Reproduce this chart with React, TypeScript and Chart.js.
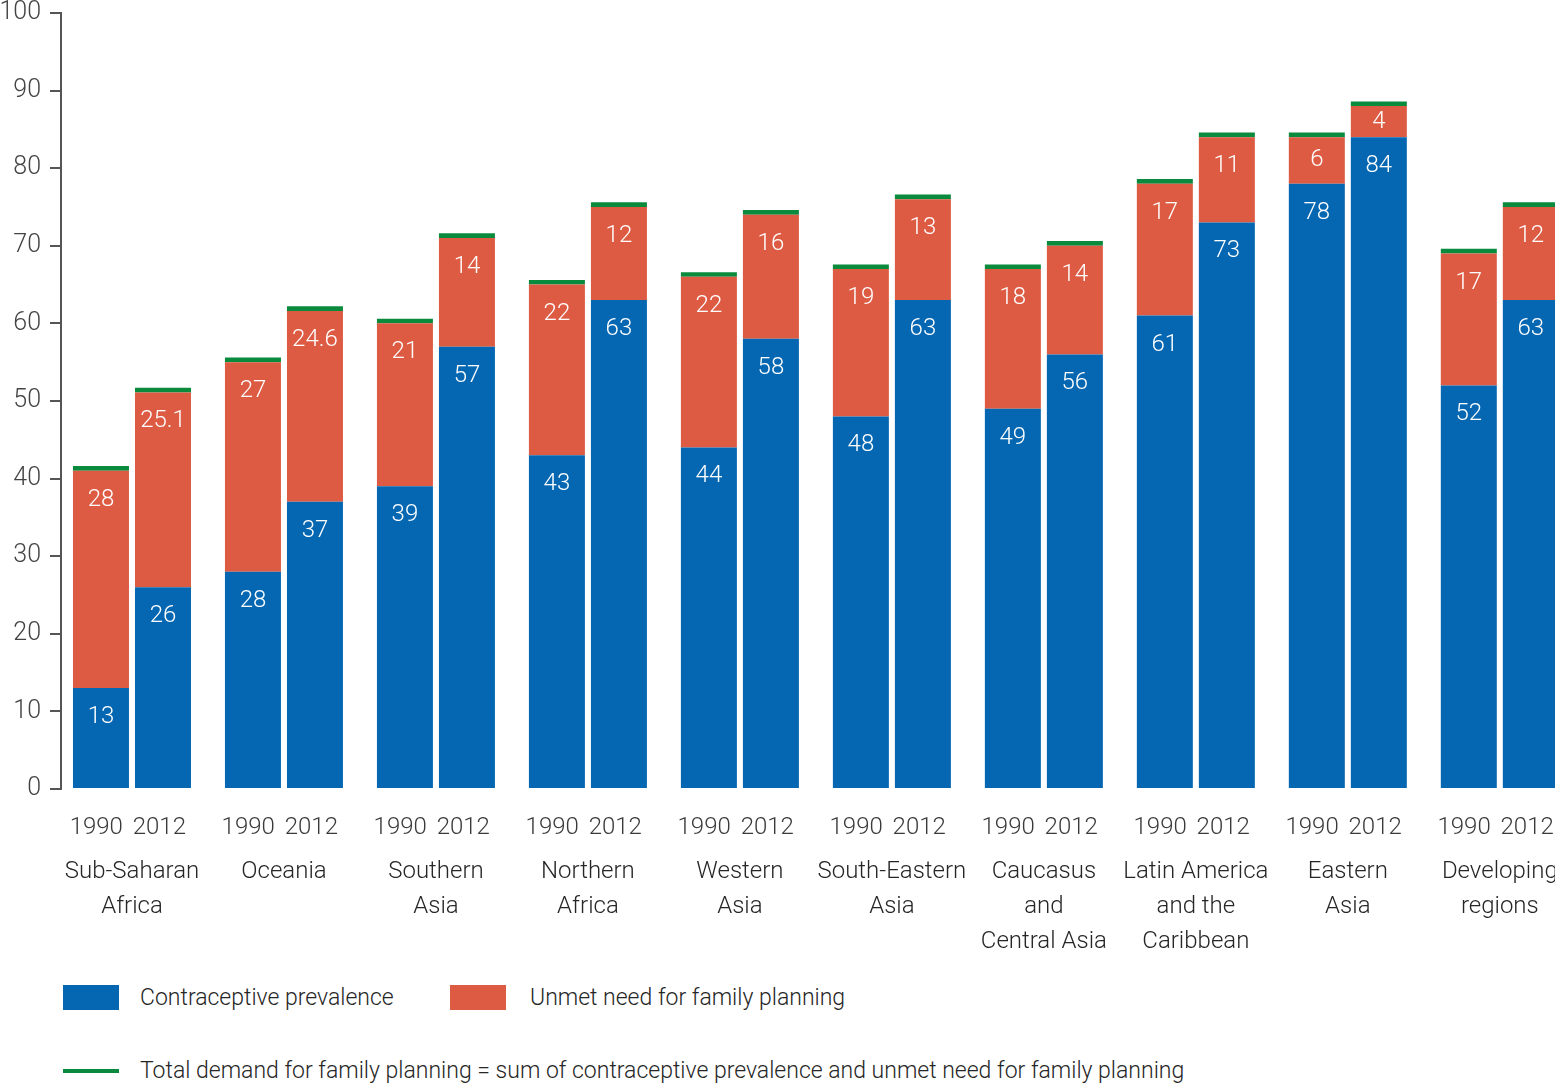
import React, { useEffect, useRef } from 'react';
import { Chart, registerables } from 'chart.js';

Chart.register(...registerables);

const regions: string[][] = [
  ['Sub-Saharan', 'Africa'],
  ['Oceania'],
  ['Southern', 'Asia'],
  ['Northern', 'Africa'],
  ['Western', 'Asia'],
  ['South-Eastern', 'Asia'],
  ['Caucasus', 'and', 'Central Asia'],
  ['Latin America', 'and the', 'Caribbean'],
  ['Eastern', 'Asia'],
  ['Developing', 'regions'],
];
const years = ['1990', '2012'];
const prevalence1990 = [13, 28, 39, 43, 44, 48, 49, 61, 78, 52];
const prevalence2012 = [26, 37, 57, 63, 58, 63, 56, 73, 84, 63];
const unmet1990 = [28, 27, 21, 22, 22, 19, 18, 17, 6, 17];
const unmet2012 = [25.1, 24.6, 14, 12, 16, 13, 14, 11, 4, 12];
const yTicks = [0, 10, 20, 30, 40, 50, 60, 70, 80, 90, 100];

const legendLabels = [
  'Contraceptive prevalence',
  'Unmet need for family planning',
  'Total demand for family planning = sum of contraceptive prevalence and unmet need for family planning',
];

const BLUE = '#0567b2';
const RED = '#dd5b43';
const GREEN = '#0a8a3c';
const FONT = "Roboto, 'Noto Sans', sans-serif";
const MARK = 0.6; // thickness of the green total-demand marker (in axis units)

const X_MIN = -0.467;
const X_MAX = 9.6;

const pts = (arr: number[]) => arr.map((v, i) => ({ x: i, y: v }));

const labelPlugin = {
  id: 'segLabels',
  afterLayout(chart: any) {
    // let the region labels sit closer to the year labels without being clipped
    if (chart.scales.x) chart.scales.x._computeLabelArea = () => undefined;
  },
  afterDatasetsDraw(chart: any) {
    const ctx = chart.ctx;
    ctx.save();
    ctx.fillStyle = '#ffffff';
    ctx.font = `300 24px ${FONT}`;
    ctx.textAlign = 'center';
    ctx.textBaseline = 'middle';
    chart.data.datasets.forEach((ds: any, di: number) => {
      if (!ds.showValues) return;
      const meta = chart.getDatasetMeta(di);
      meta.data.forEach((el: any, j: number) => {
        const v = ds.data[j].y;
        const h = el.base - el.y;
        const off = Math.min(29, h / 2);
        ctx.fillText(String(v), el.x, el.y + off);
      });
    });
    ctx.restore();
  },
};

export default function App() {
  const ref = useRef<HTMLCanvasElement | null>(null);

  useEffect(() => {
    if (!ref.current) return;
    const mk = (label: string, data: number[], color: string, stack: string, showValues: boolean) => ({
      label,
      data: pts(data),
      backgroundColor: color,
      stack,
      showValues,
      barPercentage: 0.903,
      categoryPercentage: 0.816,
      borderWidth: 0,
    });
    const chart = new Chart(ref.current, {
      type: 'bar',
      data: {
        datasets: [
          mk(legendLabels[0] + ' 1990', prevalence1990, BLUE, 'y1990', true),
          mk(legendLabels[1] + ' 1990', unmet1990, RED, 'y1990', true),
          mk('Total demand 1990', prevalence1990.map(() => MARK), GREEN, 'y1990', false),
          mk(legendLabels[0] + ' 2012', prevalence2012, BLUE, 'y2012', true),
          mk(legendLabels[1] + ' 2012', unmet2012, RED, 'y2012', true),
          mk('Total demand 2012', prevalence2012.map(() => MARK), GREEN, 'y2012', false),
        ] as any,
      },
      options: {
        animation: false,
        responsive: false,
        layout: { padding: { top: 0, left: 0, right: 9, bottom: 0 } },
        plugins: { legend: { display: false }, tooltip: { enabled: false } },
        scales: {
          x: {
            type: 'linear',
            axis: 'x',
            position: 'bottom',
            weight: 1,
            min: X_MIN,
            max: X_MAX,
            offset: false,
            grid: { display: false, drawTicks: false },
            border: { display: false },
            afterBuildTicks: (s: any) => {
              s.ticks = regions.map((_, i) => ({ value: i }));
            },
            ticks: {
              autoSkip: false,
              maxRotation: 0,
              padding: -12,
              color: '#262626',
              font: { family: FONT, size: 24, weight: '300', lineHeight: 1.46 },
              callback: (v: any) => regions[Math.round(v)] ?? '',
            },
          },
          xYear: {
            type: 'linear',
            axis: 'x',
            position: 'bottom',
            weight: 0,
            min: X_MIN,
            max: X_MAX,
            offset: false,
            grid: { display: false, drawTicks: false },
            border: { display: false },
            afterBuildTicks: (s: any) => {
              const t: any[] = [];
              regions.forEach((_, i) => {
                t.push({ value: i - 0.235 });
                t.push({ value: i + 0.18 });
              });
              s.ticks = t;
            },
            ticks: {
              autoSkip: false,
              maxRotation: 0,
              padding: 27,
              color: '#3a3a3a',
              font: { family: FONT, size: 24, weight: '300', lineHeight: 1.0 },
              callback: (_v: any, idx: number) => years[idx % 2],
            },
          },
          y: {
            stacked: true,
            min: 0,
            max: 100,
            afterBuildTicks: (s: any) => {
              s.ticks = yTicks.map((v) => ({ value: v }));
            },
            afterFit: (s: any) => {
              s.width = 61;
            },
            grid: {
              display: true,
              drawOnChartArea: false,
              drawTicks: true,
              tickLength: 11,
              color: '#555555',
              lineWidth: 2,
            },
            border: { display: true, color: '#555555', width: 2 },
            ticks: {
              padding: 9,
              color: '#444444',
              font: { family: FONT, size: 25, weight: '300' },
            },
          },
        } as any,
      },
      plugins: [labelPlugin],
    });
    return () => chart.destroy();
  }, []);

  const legendText: React.CSSProperties = {
    position: 'absolute',
    fontFamily: FONT,
    fontWeight: 300,
    fontSize: 23,
    color: '#262626',
    whiteSpace: 'nowrap',
    lineHeight: '30px',
  };

  return (
    <div
      style={{
        position: 'fixed',
        left: 0,
        top: 0,
        width: 1555,
        height: 1084,
        overflow: 'hidden',
        background: '#ffffff',
      }}
    >
      <canvas
        ref={ref}
        width={1600}
        height={959}
        style={{ position: 'absolute', left: 0, top: -11, width: 1600, height: 959 }}
      />
      <div style={{ position: 'absolute', left: 63, top: 985, width: 56, height: 25, background: BLUE }} />
      <div style={{ ...legendText, left: 140, top: 983 }}>{legendLabels[0]}</div>
      <div style={{ position: 'absolute', left: 450, top: 985, width: 56, height: 25, background: RED }} />
      <div style={{ ...legendText, left: 530, top: 983 }}>{legendLabels[1]}</div>
      <div style={{ position: 'absolute', left: 63, top: 1069, width: 56, height: 4, background: GREEN }} />
      <div style={{ ...legendText, left: 140, top: 1056 }}>{legendLabels[2]}</div>
    </div>
  );
}
